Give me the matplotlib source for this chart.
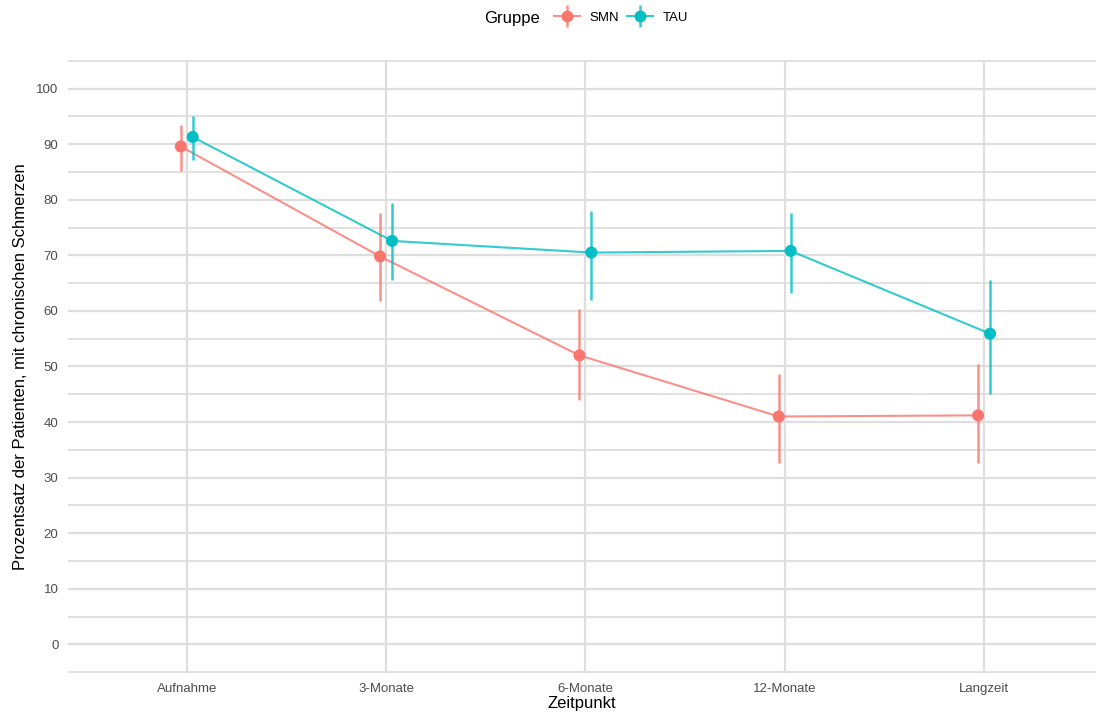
import matplotlib.pyplot as plt
from matplotlib.lines import Line2D
from matplotlib.offsetbox import HPacker
import numpy as np

plt.rcParams['font.family'] = ['Liberation Sans', 'DejaVu Sans']

zeitpunkte = ['Aufnahme', '3-Monate', '6-Monate', '12-Monate', 'Langzeit']

smn_mean = [89.6, 69.8, 52.0, 41.0, 41.2]
smn_low = [85.1, 61.7, 43.9, 32.6, 32.7]
smn_high = [93.5, 77.7, 60.3, 48.6, 50.5]

tau_mean = [91.3, 72.6, 70.5, 70.8, 55.9]
tau_low = [87.2, 65.6, 62.0, 63.3, 45.1]
tau_high = [95.0, 79.5, 78.0, 77.7, 65.6]

col_smn = '#F8766D'
col_tau = '#00BFC4'
dodge = 0.03

fig = plt.figure(figsize=(10.99, 7.2), dpi=100)
ax = fig.add_axes([0.062, 0.065, 0.935, 0.852])

x = np.arange(1, len(zeitpunkte) + 1)

# Gitterlinien (ggplot-artig)
for v in np.arange(-5, 106, 5):
    ax.axhline(v, color='#dedede', lw=1.6 if v % 10 == 0 else 1.3, zorder=0)
for xv in x:
    ax.axvline(xv, color='#dedede', lw=1.6, zorder=0)

groups = [('SMN', smn_mean, smn_low, smn_high, col_smn, -dodge),
          ('TAU', tau_mean, tau_low, tau_high, col_tau, dodge)]

for name, m, lo, hi, c, off in groups:
    xs = x + off
    ax.plot(xs, m, color=c, lw=1.5, alpha=0.8, zorder=2)
    ax.vlines(xs, lo, hi, color=c, lw=1.8, alpha=0.8, zorder=2)
    ax.scatter(xs, m, color=c, s=75, zorder=3, edgecolors='none')

ax.set_xlim(0.405, 5.56)
ax.set_ylim(-5.2, 105.2)
ax.set_xticks(x)
ax.set_xticklabels(zeitpunkte)
ax.set_yticks(np.arange(0, 101, 10))
ax.tick_params(length=0, labelsize=9.5, labelcolor='#4d4d4d', pad=7)
for s in ax.spines.values():
    s.set_visible(False)

ax.set_xlabel('Zeitpunkt', fontsize=12, labelpad=1)
ax.set_ylabel('Prozentsatz der Patienten, mit chronischen Schmerzen', fontsize=12, labelpad=6)

handles = []
for name, m, lo, hi, c, off in groups:
    handles.append((Line2D([], [], color=c, lw=1.5, alpha=0.8, marker='|', markersize=16, mew=1.8),
                    Line2D([], [], color=c, marker='o', markersize=7.5, ls='none')))

leg = fig.legend(handles, ['SMN', 'TAU'], loc='center', bbox_to_anchor=(0.533, 0.975),
                 ncol=2, frameon=False, fontsize=9.5, handlelength=2.0, columnspacing=0.6,
                 handletextpad=0.7, title='Gruppe', title_fontsize=12)
# Titel links neben die Einträge setzen
box = leg._legend_box
box.__class__ = HPacker
box.sep = 10
box.align = 'center'

fig.savefig('out.png', dpi=100, facecolor='white')
